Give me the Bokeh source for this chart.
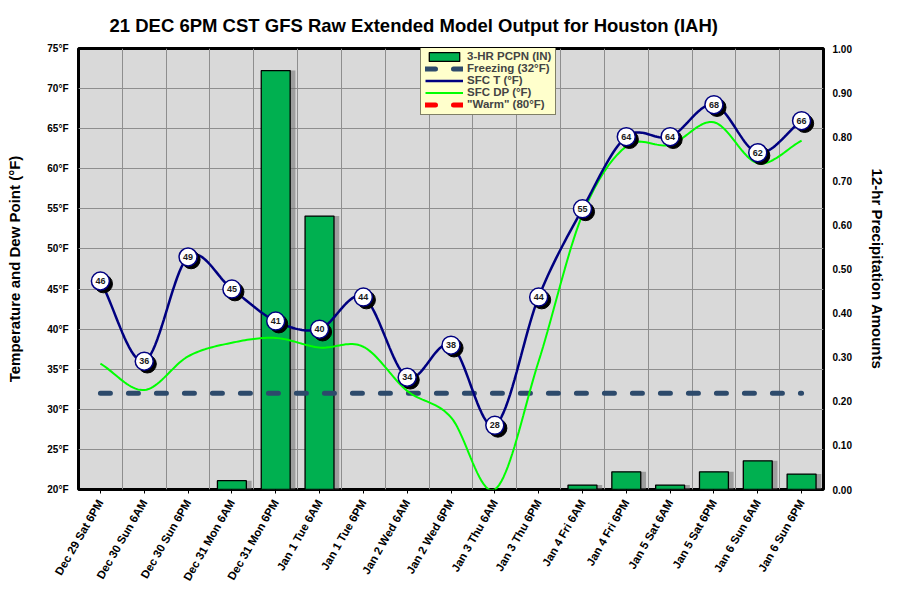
import numpy as np
from bokeh.plotting import figure
from bokeh.models import (Range1d, LinearAxis, FixedTicker, PrintfTickFormatter,
                          Legend, LegendItem, ColumnDataSource)
from bokeh.transform import dodge
from bokeh.core.properties import value
from bokeh.embed import file_html
from bokeh.resources import INLINE

# ---------------- data ----------------
times = ["Dec 29 Sat 6PM", "Dec 30 Sun 6AM", "Dec 30 Sun 6PM", "Dec 31 Mon 6AM",
         "Dec 31 Mon 6PM", "Jan 1 Tue 6AM", "Jan 1 Tue 6PM", "Jan 2 Wed 6AM",
         "Jan 2 Wed 6PM", "Jan 3 Thu 6AM", "Jan 3 Thu 6PM", "Jan 4 Fri 6AM",
         "Jan 4 Fri 6PM", "Jan 5 Sat 6AM", "Jan 5 Sat 6PM", "Jan 6 Sun 6AM",
         "Jan 6 Sun 6PM"]
temp_f = [46, 36, 49, 45, 41, 40, 44, 34, 38, 28, 44, 55, 64, 64, 68, 62, 66]
dewpt_f = [35.7, 32.4, 36.6, 38.3, 38.9, 37.7, 37.8, 32.3, 29.0, 20.0, 36.0,
           54.3, 62.8, 63.0, 65.8, 60.7, 63.5]
precip_in = [0, 0, 0, 0.02, 0.95, 0.62, 0, 0, 0, 0, 0, 0.01, 0.04, 0.01,
             0.04, 0.065, 0.035]
freezing_f = 32
warm_f = 80
temp_ticks = [20, 25, 30, 35, 40, 45, 50, 55, 60, 65, 70, 75]
precip_ticks = [0.0, 0.1, 0.2, 0.3, 0.4, 0.5, 0.6, 0.7, 0.8, 0.9, 1.0]
title_text = "21 DEC 6PM CST GFS Raw Extended Model Output for Houston (IAH)"

FONT = "Liberation Sans"

xs = np.arange(len(times)) + 0.5


def smooth(x, y, n=20):
    """Catmull-Rom curve through the points (drawing style of the original)."""
    x = np.asarray(x, float)
    y = np.asarray(y, float)
    px = np.concatenate([[2 * x[0] - x[1]], x, [2 * x[-1] - x[-2]]])
    py = np.concatenate([[2 * y[0] - y[1]], y, [2 * y[-1] - y[-2]]])
    t = np.linspace(0, 1, n, endpoint=False)
    ox, oy = [], []
    for i in range(1, len(px) - 2):
        for arr, out in ((px, ox), (py, oy)):
            p0, p1, p2, p3 = arr[i - 1], arr[i], arr[i + 1], arr[i + 2]
            out.extend(0.5 * (2 * p1 + (-p0 + p2) * t
                              + (2 * p0 - 5 * p1 + 4 * p2 - p3) * t ** 2
                              + (-p0 + 3 * p1 - 3 * p2 + p3) * t ** 3))
    ox.append(x[-1])
    oy.append(y[-1])
    return ox, oy


p = figure(width=900, height=611, x_range=Range1d(0, len(times)),
           y_range=Range1d(temp_ticks[0], temp_ticks[-1]),
           output_backend="svg", toolbar_location=None,
           min_border_left=78, min_border_right=77, min_border_top=47,
           min_border_bottom=122)
p.background_fill_color = "#D9D9D9"
p.border_fill_color = "white"
p.outline_line_color = "black"
p.outline_line_width = 3

p.extra_y_ranges = {"pcp": Range1d(precip_ticks[0], precip_ticks[-1])}

# grid
p.xgrid.ticker = FixedTicker(ticks=list(range(1, len(times))))
p.ygrid.ticker = FixedTicker(ticks=temp_ticks)
for g in (p.xgrid, p.ygrid):
    g.grid_line_color = "#8E8E8E"
    g.grid_line_width = 1

# title
p.title.text = title_text
p.title.align = "left"
p.title.offset = 31
p.title.text_font = FONT
p.title.text_font_size = "18.5px"
p.title.text_font_style = "bold"
p.title.text_color = "black"
p.title.standoff = 25

# x axis
xa = p.xaxis[0]
xa.ticker = FixedTicker(ticks=list(xs))
xa.major_label_overrides = {float(x): t for x, t in zip(xs, times)}
xa.major_label_orientation = np.pi / 3
xa.major_label_text_font = FONT
xa.major_label_text_font_size = "11.5px"
xa.major_label_text_font_style = "bold"
xa.major_label_text_color = "black"
xa.major_label_standoff = 7
xa.major_tick_out = 4
xa.major_tick_in = 0
xa.minor_tick_out = 0
xa.axis_line_color = None

# left axis
ya = p.yaxis[0]
ya.ticker = FixedTicker(ticks=temp_ticks)
ya.formatter = PrintfTickFormatter(format="%d°F")
ya.axis_label = "Temperature and Dew Point (°F)"

# right axis
ra = LinearAxis(y_range_name="pcp", ticker=FixedTicker(ticks=precip_ticks),
                formatter=PrintfTickFormatter(format="%.2f"),
                axis_label="12-hr Precipitation Amounts")
p.add_layout(ra, "right")

for ax in (ya, ra):
    ax.major_label_text_font = FONT
    ax.major_label_text_font_size = "10px"
    ax.major_label_text_font_style = "bold"
    ax.major_label_text_color = "black"
    ax.major_tick_out = 0
    ax.major_tick_in = 0
    ax.minor_tick_out = 0
    ax.minor_tick_in = 0
    ax.axis_line_color = None
    ax.axis_label_text_font = FONT
    ax.axis_label_text_font_size = "15px"
    ax.axis_label_text_font_style = "bold"
    ax.axis_label_text_color = "black"
ya.major_label_standoff = 10
ya.axis_label_standoff = 21
ra.major_label_standoff = 9
ra.axis_label_standoff = 14

# bars (precip)
pmask = np.asarray(precip_in) > 0
bar_src = ColumnDataSource(dict(x=xs[pmask], pcp=np.asarray(precip_in)[pmask]))
p.vbar(x=dodge("x", 0.12), top="pcp", bottom=0, width=0.66, source=bar_src,
       y_range_name="pcp", fill_color="#6E6E6E", fill_alpha=0.55, line_color=None)
bars = p.vbar(x="x", top="pcp", bottom=0, width=0.66, source=bar_src,
              y_range_name="pcp", fill_color="#00B050", line_color="black",
              line_width=1.3)

# freezing & warm reference lines
frz = p.line([xs[0], xs[-1]], [freezing_f, freezing_f], line_color="#2D4A6B",
             line_width=5, line_dash="10 18", line_cap="round")
warm = p.line([xs[0], xs[-1]], [warm_f, warm_f], line_color="#FF0000",
              line_width=5, line_dash="10 18", line_cap="round")

# dew point
dx, dy = smooth(xs, dewpt_f)
dp_line = p.line(dx, dy, line_color="#00FF00", line_width=2)

# temperature
tx, ty = smooth(xs, temp_f)
t_line = p.line(tx, ty, line_color="#000080", line_width=2.5)

t_src = ColumnDataSource(dict(x=xs, t=temp_f, lbl=[str(v) for v in temp_f]))
p.scatter(x=dodge("x", 0.07), y=dodge("t", -0.35), size=18, source=t_src,
          fill_color="black", line_color="black")
p.scatter(x="x", y="t", size=18, source=t_src, fill_color="white",
          line_color="#000080", line_width=1.5)
p.text(x="x", y="t", text="lbl", source=t_src, text_align="center",
       text_baseline="middle", text_font=value(FONT), text_font_size="9px",
       text_font_style="bold", text_color="#1A1A1A")

# legend-only marker for SFC T
t_leg_marker = p.scatter(x=[], y=[], size=8, fill_color="white",
                         line_color="#000080", line_width=1.5)

legend = Legend(items=[
    LegendItem(label="3-HR PCPN (IN)", renderers=[bars]),
    LegendItem(label="Freezing (32°F)", renderers=[frz]),
    LegendItem(label="SFC T (°F)", renderers=[t_line, t_leg_marker]),
    LegendItem(label="SFC DP (°F)", renderers=[dp_line]),
    LegendItem(label='"Warm" (80°F)', renderers=[warm]),
], location=(342, 374))
legend.label_text_font = FONT
legend.label_text_font_size = "11.5px"
legend.label_text_font_style = "bold"
legend.label_height = 11
legend.glyph_height = 11
legend.glyph_width = 38
legend.label_standoff = 4
legend.spacing = 0
legend.padding = 4
legend.margin = 0
legend.border_line_color = "black"
legend.border_line_width = 1.5
legend.background_fill_color = "#FFFFCC"
legend.background_fill_alpha = 1
p.add_layout(legend, "center")

open("out.html", "w").write(file_html(p, INLINE))
